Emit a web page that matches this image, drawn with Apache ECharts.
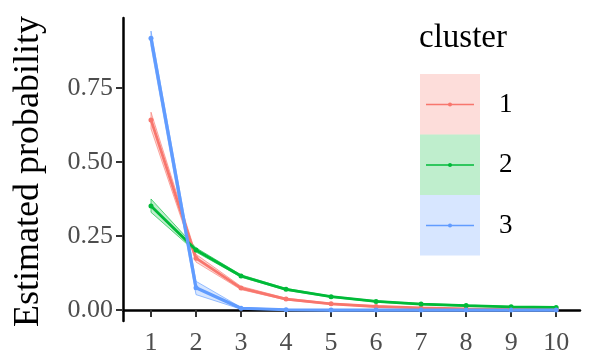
<!DOCTYPE html>
<html>
<head>
<meta charset="utf-8">
<script src="https://cdn.jsdelivr.net/npm/echarts@6/dist/echarts.min.js"></script>
<style>
html,body{margin:0;padding:0;background:#fff;}
#main{width:598px;height:363px;}
</style>
</head>
<body>
<div id="main"></div>
<script>
//数据
var xs = [1,2,3,4,5,6,7,8,9,10];
var yTicks = [0, 0.25, 0.5, 0.75];
var clusterNames = ['1','2','3'];
var colors = ['#F8766D','#00BA38','#619CFF'];
var fills = ['rgba(248,118,109,0.25)','rgba(0,186,56,0.25)','rgba(97,156,255,0.25)'];

// cluster 1
var c1Mean  = [0.642,0.175,0.074,0.037,0.021,0.012,0.007,0.004,0.003,0.002];
var c1Lower = [0.612,0.162,0.069,0.034,0.019,0.010,0.006,0.003,0.002,0.001];
var c1Upper = [0.668,0.188,0.080,0.040,0.023,0.014,0.008,0.005,0.004,0.003];
// cluster 2
var c2Mean  = [0.351,0.203,0.115,0.070,0.045,0.029,0.020,0.015,0.011,0.009];
var c2Lower = [0.330,0.196,0.111,0.067,0.043,0.027,0.018,0.013,0.010,0.008];
var c2Upper = [0.375,0.210,0.119,0.073,0.047,0.031,0.022,0.017,0.012,0.010];
// cluster 3
var c3Mean  = [0.918,0.075,0.006,0.001,0.000,0.000,0.000,0.000,0.000,0.000];
var c3Lower = [0.892,0.052,0.003,0.000,0.000,0.000,0.000,0.000,0.000,0.000];
var c3Upper = [0.942,0.097,0.009,0.002,0.001,0.001,0.001,0.001,0.001,0.001];

var means = [c1Mean, c2Mean, c3Mean];
var lowers = [c1Lower, c2Lower, c3Lower];
var uppers = [c1Upper, c2Upper, c3Upper];

var serif = '"Liberation Serif","DejaVu Serif",serif';

function pairs(arr){
	var out = [];
	for(var i=0;i<xs.length;i++){
		out.push([xs[i], arr[i]]);
	}
	return out;
}

//置信带
function ribbon(k){
	return function(params, api){
		if(params.dataIndex !== 0) return null;
		var pts = [];
		for(var i=0;i<xs.length;i++){
			pts.push(api.coord([xs[i], uppers[k][i]]));
		}
		for(var i=xs.length-1;i>=0;i--){
			pts.push(api.coord([xs[i], lowers[k][i]]));
		}
		return {
			type:'polygon',
			shape:{points:pts},
			style:{fill:fills[k], stroke:colors[k], lineWidth:0.9, strokeOpacity:0.7}
		};
	};
}

var series = [];
for(var k=0;k<3;k++){
	series.push({
		type:'custom', renderItem:ribbon(k), silent:true,
		data:pairs(means[k]), z:1
	});
}
for(var k=0;k<3;k++){
	series.push({
		name:clusterNames[k], type:'line', data:pairs(means[k]),
		symbol:'circle', symbolSize:5,
		itemStyle:{color:colors[k]},
		lineStyle:{color:colors[k], width:k==2 ? 3.2 : 2.8},
		z:3
	});
}

// 图例
var legendItems = [];
legendItems.push({type:'text', left:419, top:22, style:{text:'cluster', font:'33px '+serif, fill:'#000'}});
for(var k=0;k<3;k++){
	var boxTop = 74 + k*60.5;
	legendItems.push({type:'rect', shape:{x:420, y:boxTop, width:60, height:60.5}, style:{fill:fills[k]}});
	legendItems.push({type:'line', shape:{x1:426, y1:boxTop+30.5, x2:474, y2:boxTop+30.5}, style:{stroke:colors[k], lineWidth:1.5}});
	legendItems.push({type:'circle', shape:{cx:450, cy:boxTop+30.5, r:2}, style:{fill:colors[k]}});
	legendItems.push({type:'text', x:499, y:boxTop+30.5, style:{text:clusterNames[k], font:'27px '+serif, fill:'#000', textVerticalAlign:'middle'}});
}

var chart = echarts.init(document.getElementById('main'));
chart.setOption({
	animation:false,
	backgroundColor:'#fff',
	grid:{left:123, right:18, top:18, bottom:42},
	xAxis:{
		type:'value', min:0.378, max:10.53,
		splitLine:{show:false},
		axisLine:{lineStyle:{color:'#000', width:2.5}},
		axisTick:{customValues:xs, length:7, lineStyle:{color:'#333', width:2}},
		axisLabel:{customValues:xs, margin:9, fontSize:26, color:'#4d4d4d', fontFamily:serif}
	},
	yAxis:{
		type:'value', min:-0.037, max:0.986,
		name:'Estimated probability', nameLocation:'middle', nameGap:76,
		nameTextStyle:{fontSize:36, color:'#000', fontFamily:serif, padding:[0,0,0,-4]},
		splitLine:{show:false},
		axisLine:{lineStyle:{color:'#000', width:2.5}},
		axisTick:{customValues:yTicks, length:7, lineStyle:{color:'#333', width:2}},
		axisLabel:{customValues:yTicks, margin:10, fontSize:26, color:'#4d4d4d', fontFamily:serif,
			formatter:function(v){ return v.toFixed(2); }}
	},
	graphic:legendItems,
	series:series
});
</script>
</body>
</html>
